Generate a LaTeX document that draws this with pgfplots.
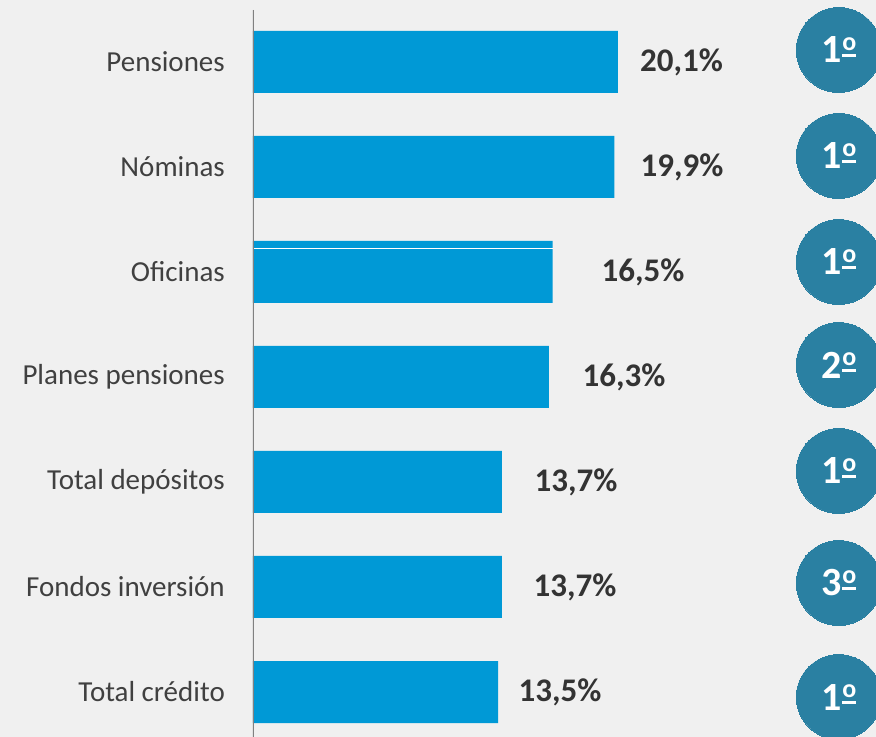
\documentclass[border=0pt]{standalone}
\usepackage{pgfplots}
\pgfplotsset{compat=1.18}
\usepackage{fontspec}
\setmainfont{Carlito}
\definecolor{bg}{HTML}{F0F0F0}
\definecolor{barblue}{HTML}{0099D6}
\definecolor{circ}{HTML}{2A80A2}
\definecolor{lbl}{HTML}{404040}
\definecolor{val}{HTML}{333333}
\newcommand\ord{\kern1bp\rlap{\raisebox{6bp}{\rule{14bp}{3bp}}}\raisebox{12.5bp}{\fontsize{26bp}{26bp}\selectfont\bfseries o}}
\begin{document}
\begin{tikzpicture}
\fill[bg] (-253bp,0) rectangle (623bp,737bp);
\begin{axis}[
  scale only axis,
  width=623bp, height=737bp,
  xmin=0, xmax=34.31,
  ymin=-0.590, ymax=6.4286,
  y dir=reverse,
  axis lines*=left,
  axis line style={draw=none},
  xtick=\empty,
  ytick={0,1,2,3,4,5,6},
  yticklabels={Pensiones,Nóminas,Oficinas,Planes pensiones,Total depósitos,Fondos inversión,Total crédito},
  major tick length=0pt,
  yticklabel style={font=\fontsize{29bp}{34bp}\selectfont, text=lbl, inner sep=0pt, xshift=-28bp},
  clip marker paths=true,
]
\addplot[xbar, bar width=62bp, fill=barblue, draw=none] coordinates {
  (20.1,0) (19.9,1) (16.5,2) (16.3,3) (13.7,4) (13.7,5) (13.5,6)};
\addplot[draw=none, mark=none, nodes near coords, point meta=explicit symbolic,
  every node near coord/.style={anchor=center, inner sep=0pt, text=val,
    font=\fontsize{33bp}{38bp}\selectfont\bfseries}]
  coordinates {
  (23.60,0) [20,1\%]
  (23.63,1) [19,9\%]
  (21.48,2) [16,5\%]
  (20.43,3) [16,3\%]
  (17.79,4) [13,7\%]
  (17.73,5) [13,7\%]
  (16.91,6) [13,5\%]
};
\addplot[only marks, mark=*, mark size=42.5bp, mark options={fill=circ, draw=circ, line width=0pt},
  nodes near coords, point meta=explicit symbolic,
  every node near coord/.style={anchor=center, inner sep=0pt, text=white,
    font=\fontsize{40bp}{44bp}\selectfont\bfseries}]
  coordinates {
  (32.26,-0.114) [1\ord]
  (32.26,0.895) [1\ord]
  (32.26,1.905) [1\ord]
  (32.26,2.886) [2\ord]
  (32.26,3.895) [1\ord]
  (32.26,4.962) [3\ord]
  (32.26,6.048) [1\ord]
};
\draw[white, line width=1.2bp] (axis cs:0,1.78) -- (axis cs:16.5,1.78);
\draw[gray, line width=2bp] (axis cs:0,-0.495) -- (axis cs:0,6.4286);
\end{axis}
\pgfresetboundingbox
\useasboundingbox (-253bp,0) rectangle (623bp,737bp);
\end{tikzpicture}
\end{document}
